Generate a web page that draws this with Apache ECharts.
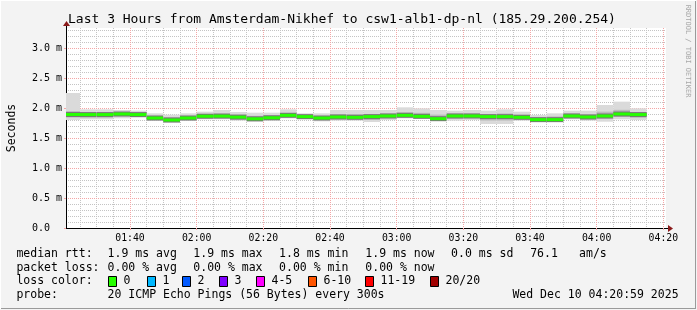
<!DOCTYPE html>
<html><head><meta charset="utf-8">
<script src="https://cdn.jsdelivr.net/npm/echarts@6/dist/echarts.min.js"></script>
<style>html,body{margin:0;padding:0;background:#f3f3f3}#c{width:697px;height:310px}</style>
</head><body><div id="c"></div>
<script>
// ---- data (ms) ----
const stepEnds = ['01:25','01:30','01:35','01:40','01:45','01:50','01:55','02:00','02:05','02:10',
  '02:15','02:20','02:25','02:30','02:35','02:40','02:45','02:50','02:55','03:00',
  '03:05','03:10','03:15','03:20','03:25','03:30','03:35','03:40','03:45','03:50',
  '03:55','04:00','04:05','04:10','04:15'];
const medianMs = [1.892,1.890,1.890,1.900,1.890,1.833,1.800,1.833,1.863,1.865,
  1.848,1.820,1.837,1.878,1.856,1.833,1.850,1.845,1.856,1.867,
  1.878,1.861,1.822,1.867,1.867,1.856,1.856,1.845,1.806,1.806,
  1.867,1.850,1.867,1.900,1.890];
const smokeMax = [2.250,1.978,1.978,1.967,1.956,1.911,1.889,1.911,1.939,1.967,
  1.933,1.922,1.922,1.978,1.911,1.911,1.967,1.967,1.967,1.967,
  2.011,1.994,1.967,1.956,1.967,1.956,1.978,1.939,1.883,1.911,
  1.956,1.956,2.050,2.106,1.994];
const smokeMin = [1.800,1.811,1.811,1.828,1.844,1.789,1.756,1.789,1.811,1.811,
  1.789,1.772,1.789,1.828,1.811,1.778,1.789,1.789,1.767,1.800,
  1.828,1.828,1.789,1.789,1.800,1.733,1.733,1.789,1.789,1.800,
  1.811,1.789,1.772,1.811,1.800];
const midHigh = [1.95,1.93,1.93,1.93,1.92,1.87,1.85,1.87,1.90,1.91,
  1.89,1.87,1.88,1.92,1.88,1.87,1.90,1.90,1.90,1.91,
  1.93,1.92,1.89,1.91,1.91,1.90,1.91,1.89,1.85,1.86,
  1.91,1.90,1.94,1.97,1.93];
const midLow = [1.84,1.84,1.84,1.86,1.86,1.81,1.78,1.81,1.83,1.83,
  1.81,1.79,1.81,1.85,1.83,1.80,1.81,1.81,1.80,1.83,
  1.85,1.84,1.80,1.82,1.83,1.79,1.79,1.81,1.79,1.79,
  1.83,1.81,1.82,1.85,1.84];
const xTickLabels = ['01:40','02:00','02:20','02:40','03:00','03:20','03:40','04:00','04:20'];
const yTickValues = [0,0.5,1.0,1.5,2.0,2.5,3.0];
const titleText = 'Last 3 Hours from Amsterdam-Nikhef to csw1-alb1-dp-nl (185.29.200.254)';
const rttStats = ['1.9 ms avg','1.9 ms max','1.8 ms min','1.9 ms now','0.0 ms sd','76.1','am/s'];
const lossStats = ['0.00 % avg','0.00 % max','0.00 % min','0.00 % now'];
const lossLabels = ['0','1','2','3','4-5','6-10','11-19','20/20'];
const lossColors = ['#26ff00','#00b8ff','#0059ff','#7e00ff','#ff00ff','#ff5500','#ff0000','#a10000'];
const probeText = '20 ICMP Echo Pings (56 Bytes) every 300s';
const dateText = 'Wed Dec 10 04:20:59 2025';

// ---- helpers ----
const toMin = s => { const p = s.split(':').map(Number); return p[0]*60 + p[1]; };
const pad = n => (n < 10 ? '0' : '') + n;
const STEP = 5;
const X_MIN = toMin('01:20') + 0.8, X_MAX = X_MIN + 180;
const Y_MAX = 10/3;
const majorX = xTickLabels.map(toMin);
const minorX = [];
for (let t = 85; t < X_MAX; t += 5) if (t % 20 !== 0) minorX.push(t);
const minorY = [];
for (let k = 1; k <= 33; k++) if (k % 5 !== 0) minorY.push(+(k/10).toFixed(1));
const mono = '"DejaVu Sans Mono", monospace';
const GRID_GRAY = '#c4c4c4', GRID_RED = '#f4a6a6';

const data = stepEnds.map((s, i) => [toMin(s), smokeMin[i], midLow[i], midHigh[i], smokeMax[i], medianMs[i]]);

const chart = echarts.init(document.getElementById('c'), null, {renderer: 'canvas'});

const graphics = [];
// frame
graphics.push({type:'line', shape:{x1:0, y1:0.5, x2:696, y2:0.5}, style:{stroke:'#ffffff', lineWidth:1}, silent:true});
graphics.push({type:'line', shape:{x1:0.5, y1:0, x2:0.5, y2:309}, style:{stroke:'#ffffff', lineWidth:1}, silent:true});
graphics.push({type:'line', shape:{x1:695.5, y1:1, x2:695.5, y2:309}, style:{stroke:'#9a9a9a', lineWidth:1}, silent:true});
graphics.push({type:'line', shape:{x1:1, y1:308.5, x2:696, y2:308.5}, style:{stroke:'#9a9a9a', lineWidth:1}, silent:true});
// title
graphics.push({type:'text', x:68, y:20, style:{text:titleText, fontFamily:mono, fontSize:13, fill:'#000', align:'left', verticalAlign:'middle'}});
// watermark
graphics.push({type:'text', x:688, y:51, rotation:-Math.PI/2, style:{text:'RRDTOOL / TOBI OETIKER', fontFamily:mono, fontSize:7, fill:'#a8a8a8', align:'center', verticalAlign:'middle'}});
// axis arrows and extensions
graphics.push({type:'line', shape:{x1:666, y1:228.5, x2:669, y2:228.5}, style:{stroke:'#000', lineWidth:1}});
graphics.push({type:'line', shape:{x1:66.5, y1:28, x2:66.5, y2:25}, style:{stroke:'#000', lineWidth:1}});
graphics.push({type:'polygon', shape:{points:[[668,225],[668,232],[673,228.5]]}, style:{fill:'#8b1a1a'}});
graphics.push({type:'polygon', shape:{points:[[63,26],[70,26],[66.5,21]]}, style:{fill:'#8b1a1a'}});
// legend rows
const rowY = [254.5, 268, 281.5, 295.5];
const colX = [107.6, 193.3, 279.1, 365.3, 451.1, 530.2, 579.1];
const txt = (x, y, t) => ({type:'text', x:x, y:y, style:{text:t, fontFamily:mono, fontSize:11.5, fill:'#000', align:'left', verticalAlign:'middle'}});
graphics.push(txt(16.4, rowY[0], 'median rtt:'));
rttStats.forEach((s, i) => graphics.push(txt(colX[i], rowY[0], s)));
graphics.push(txt(16.4, rowY[1], 'packet loss:'));
lossStats.forEach((s, i) => graphics.push(txt(colX[i], rowY[1], s)));
graphics.push(txt(16.4, rowY[2], 'loss color:'));
const swX = [108, 146.7, 182.2, 219.1, 256.4, 307.6, 365.3, 430.2];
lossLabels.forEach((l, i) => {
  graphics.push({type:'rect', shape:{x:Math.round(swX[i])+0.5, y:276.5, width:8, height:10}, style:{fill:lossColors[i], stroke:'#000', lineWidth:1}});
  graphics.push(txt(Math.round(swX[i]) + 15.5, rowY[2], l));
});
graphics.push(txt(16.4, rowY[3], 'probe:'));
graphics.push(txt(107.6, rowY[3], probeText));
graphics.push(txt(512.4, rowY[3], dateText));

const option = {
  backgroundColor: '#f3f3f3',
  animation: false,
  grid: {left:66, top:28, width:600, height:200, show:true, backgroundColor:'#ffffff', borderWidth:0, outerBoundsMode:'none', containLabel:false},
  xAxis: [
    {type:'value', min:X_MIN, max:X_MAX, z:1,
     axisLine:{show:true, onZero:false, lineStyle:{color:'#000', width:1}},
     axisTick:{show:true, customValues:majorX, length:2, lineStyle:{color:GRID_RED}},
     axisLabel:{customValues:majorX, formatter: v => pad(Math.floor(v/60)) + ':' + pad(Math.round(v%60)), fontFamily:mono, fontSize:9.8, color:'#000', margin:5},
     splitLine:{show:true, lineStyle:{color:GRID_RED, type:[1,1], width:1}}},
    {type:'value', min:X_MIN, max:X_MAX, z:0, position:'bottom',
     axisLine:{show:false}, axisTick:{show:false, customValues:minorX}, axisLabel:{show:false},
     splitLine:{show:true, lineStyle:{color:GRID_GRAY, type:[1,1], width:1}}}
  ],
  yAxis: [
    {type:'value', min:0, max:Y_MAX, z:1,
     name:'Seconds', nameLocation:'middle', nameGap:48, nameRotate:90,
     nameTextStyle:{fontFamily:mono, fontSize:11.5, color:'#000'},
     axisLine:{show:true, lineStyle:{color:'#000', width:1}},
     axisTick:{show:true, customValues:yTickValues, length:2, lineStyle:{color:GRID_RED}},
     axisLabel:{customValues:yTickValues, formatter: v => v === 0 ? '0.0  ' : v.toFixed(1) + ' m', fontFamily:mono, fontSize:10, color:'#000', margin:4},
     splitLine:{show:true, lineStyle:{color:GRID_RED, type:[1,1], width:1}}},
    {type:'value', min:0, max:Y_MAX, z:0,
     axisLine:{show:false}, axisTick:{show:false, customValues:minorY}, axisLabel:{show:false},
     splitLine:{show:true, lineStyle:{color:GRID_GRAY, type:[1,1], width:1}}}
  ],
  series: [{
    type:'custom', xAxisIndex:0, yAxisIndex:0, clip:true, z:5,
    data: data,
    renderItem: (params, api) => {
      const end = api.value(0);
      const xa = api.coord([end - STEP, 0])[0], xb = api.coord([end, 0])[0];
      const y = v => api.coord([end, v])[1];
      const w = xb - xa;
      const ym = y(api.value(5));
      return {type:'group', children:[
        {type:'rect', shape:{x:xa, y:y(api.value(4)), width:w, height:y(api.value(1)) - y(api.value(4))}, style:{fill:'#dadada'}},
        {type:'rect', shape:{x:xa, y:y(api.value(3)), width:w, height:y(api.value(2)) - y(api.value(3))}, style:{fill:'#bcbcbc'}},
        {type:'rect', shape:{x:xa, y:ym - 2.5, width:w, height:5}, style:{fill:'#777777'}},
        {type:'rect', shape:{x:xa, y:ym - 1.5, width:w, height:3}, style:{fill:lossColors[0]}}
      ]};
    }
  }],
  graphic: graphics
};
chart.setOption(option);
</script>
</body></html>
